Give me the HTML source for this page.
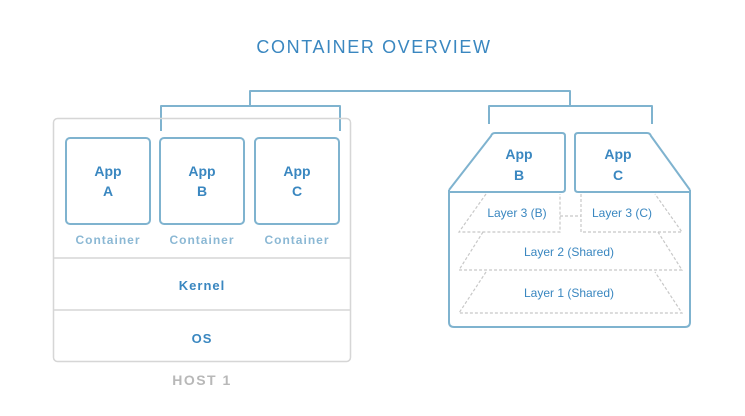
<!DOCTYPE html>
<html><head><meta charset="utf-8"><style>
html,body{margin:0;padding:0;background:#fff}
svg{display:block}
text{font-family:"Liberation Sans",sans-serif}
</style></head><body>
<svg width="745" height="416" viewBox="0 0 745 416" xmlns="http://www.w3.org/2000/svg">
<text x="374" y="53" text-anchor="middle" font-size="18" fill="#3a87c0" letter-spacing="1.6">CONTAINER OVERVIEW</text>
<g fill="none" stroke="#7fb3cf" stroke-width="2" stroke-linejoin="round">
<path d="M250 105 V91 H570 V105"/>
<path d="M161 131 V106 H340 V131"/>
<path d="M489 124 V106 H652 V124"/>
</g>
<!-- Host 1 -->
<rect x="53.5" y="118.5" width="297" height="243" rx="4" fill="none" stroke="#d6d6d6" stroke-width="1.5"/>
<line x1="54" y1="258" x2="350" y2="258" stroke="#d6d6d6" stroke-width="1.5"/>
<line x1="54" y1="310" x2="350" y2="310" stroke="#d6d6d6" stroke-width="1.5"/>
<g fill="none" stroke="#7fb3cf" stroke-width="2">
<rect x="66" y="138" width="84" height="86" rx="4"/>
<rect x="160" y="138" width="84" height="86" rx="4"/>
<rect x="255" y="138" width="84" height="86" rx="4"/>
</g>
<g font-size="14" font-weight="bold" fill="#3a87c0" text-anchor="middle">
<text x="108" y="176">App</text><text x="108" y="196">A</text>
<text x="202" y="176">App</text><text x="202" y="196">B</text>
<text x="297" y="176">App</text><text x="297" y="196">C</text>
</g>
<g font-size="12" font-weight="bold" fill="#8bb8d4" text-anchor="middle" letter-spacing="1">
<text x="108" y="244">Container</text>
<text x="202" y="244">Container</text>
<text x="297" y="244">Container</text>
</g>
<text x="202" y="290" font-size="13" font-weight="bold" fill="#3a87c0" text-anchor="middle" letter-spacing="1">Kernel</text>
<text x="202" y="343" font-size="13" font-weight="bold" fill="#3a87c0" text-anchor="middle" letter-spacing="1">OS</text>
<text x="202" y="385" font-size="14" font-weight="bold" fill="#b8b8b8" text-anchor="middle" letter-spacing="1.5">HOST 1</text>
<!-- Right -->
<g fill="none" stroke="#7fb3cf" stroke-width="2" stroke-linejoin="round">
<path d="M449 190 V322 Q449 327 454 327 H685 Q690 327 690 322 V190"/>
<path d="M449 190 L491 136 Q492 133 495 133 H562 Q565 133 565 136 V189 Q565 192 562 192 H449"/>
<path d="M690 190 L651 136 Q650 133 647 133 H578 Q575 133 575 136 V189 Q575 192 578 192 H690"/>
</g>
<g font-size="14" font-weight="bold" fill="#3a87c0" text-anchor="middle">
<text x="519" y="159">App</text><text x="519" y="180">B</text>
<text x="618" y="159">App</text><text x="618" y="180">C</text>
</g>
<g fill="none" stroke="#c8c8c8" stroke-width="1.2" stroke-dasharray="3,2">
<path d="M486 194 L459 232 H560 V194"/>
<path d="M560 216 H581"/>
<path d="M581 194 V232 H682 L655 194"/>
<path d="M483 232 L459 270 H682 L658 232"/>
<path d="M486 272 L459 313 H682 L655 272"/>
</g>
<g font-size="12" fill="#3a87c0" text-anchor="middle">
<text x="517" y="217">Layer 3 (B)</text>
<text x="622" y="217">Layer 3 (C)</text>
<text x="569" y="256">Layer 2 (Shared)</text>
<text x="569" y="297">Layer 1 (Shared)</text>
</g>
</svg>
</body></html>
